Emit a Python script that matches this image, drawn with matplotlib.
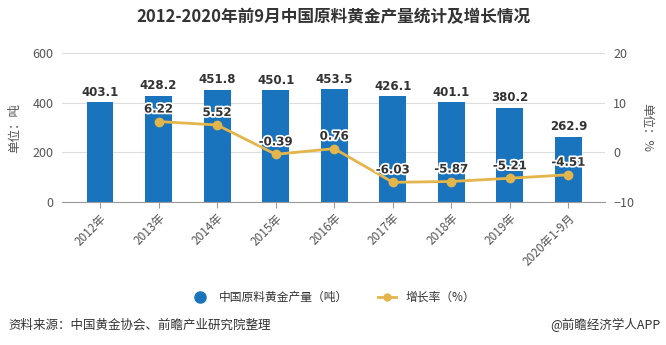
import matplotlib.pyplot as plt
import matplotlib.patheffects as pe
from matplotlib.lines import Line2D
import numpy as np

plt.rcParams['font.family'] = ['Noto Sans CJK SC', 'DejaVu Sans']

years = ['2012年', '2013年', '2014年', '2015年', '2016年', '2017年', '2018年', '2019年', '2020年1-9月']
output = [403.1, 428.2, 451.8, 450.1, 453.5, 426.1, 401.1, 380.2, 262.9]
growth_years = years[1:]
growth = [6.22, 5.52, -0.39, 0.76, -6.03, -5.87, -5.21, -4.51]

bar_color = '#1a74bd'
line_color = '#e3b54a'
text_gray = '#555555'

fig = plt.figure(figsize=(6.66, 3.45), dpi=100)
ax = fig.add_axes([0.093, 0.4145, 0.815, 0.4315])
ax2 = ax.twinx()

x = np.arange(len(years))
ax.bar(x, output, width=0.46, color=bar_color, zorder=2)
for xi, v in zip(x, output):
    ax.text(xi, v + 14, f'{v:.1f}', ha='center', va='bottom', fontsize=8.5,
            fontweight='bold', color='#333333', family=['DejaVu Sans'])

gx = x[1:]
ax2.plot(gx, growth, color=line_color, linewidth=2, marker='o', markersize=6,
         zorder=3)
for xi, v in zip(gx, growth):
    ax2.text(xi, v + 1.2, f'{v:.2f}', ha='center', va='bottom', fontsize=8.5,
             fontweight='bold', color='#333333', family=['DejaVu Sans'],
             path_effects=[pe.withStroke(linewidth=2.5, foreground='white')], zorder=4)

ax.set_xlim(-0.65, 8.62)
ax.set_ylim(0, 600)
ax.set_yticks([0, 200, 400, 600])
ax2.set_ylim(-10, 20)
ax2.set_yticks([-10, 0, 10, 20])
ax.set_zorder(ax2.get_zorder() - 1)
ax.patch.set_visible(False)

ax.grid(axis='y', color='#dddddd', linewidth=0.8, zorder=0)
ax.set_axisbelow(True)
for a in (ax, ax2):
    for s in a.spines.values():
        s.set_visible(False)
    a.tick_params(axis='y', length=0, labelsize=9, colors=text_gray, pad=6)
ax.spines['bottom'].set_visible(True)
ax.spines['bottom'].set_color('#999999')

ax.set_xticks(x)
ax.set_xticklabels(years, rotation=45, ha='right', rotation_mode='anchor',
                   fontsize=8.5, color=text_gray)
ax.tick_params(axis='x', length=4, color='#999999', pad=3)

ax.set_ylabel('单位：吨', fontsize=9, color=text_gray, labelpad=8)
ax2.set_ylabel('单位：%', fontsize=9, color=text_gray, rotation=270, labelpad=14)

fig.suptitle('2012-2020年前9月中国原料黄金产量统计及增长情况', x=0.5, y=0.975,
             fontsize=12, fontweight='bold', color='#333333')

handles = [
    Line2D([], [], linestyle='none', marker='o', markersize=8, color=bar_color),
    Line2D([], [], color=line_color, linewidth=2, marker='o', markersize=5),
]
fig.legend(handles, ['中国原料黄金产量（吨）', '增长率（%）'], loc='center',
           bbox_to_anchor=(0.5, 0.138), ncol=2, frameon=False, fontsize=8.5,
           handlelength=1.6, columnspacing=2.5, labelcolor='#333333')

fig.text(0.012, 0.058, '资料来源：中国黄金协会、前瞻产业研究院整理', fontsize=9,
         color='#333333', va='center')
fig.text(0.992, 0.058, '@前瞻经济学人APP', fontsize=9, color='#333333',
         va='center', ha='right')

fig.savefig('out.png', dpi=100)
